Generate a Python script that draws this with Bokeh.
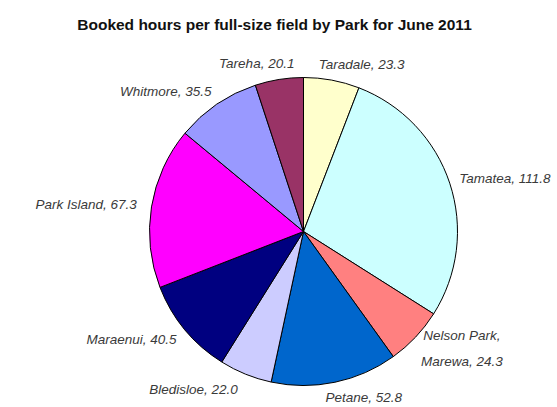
import math
from bokeh.plotting import figure
from bokeh.models import Range1d, ColumnDataSource
from bokeh.core.properties import value
from bokeh.embed import file_html
from bokeh.resources import INLINE

title = "Booked hours per full-size field by Park for June 2011"
parks = ["Taradale", "Tamatea", "Nelson Park, Marewa", "Petane", "Bledisloe",
         "Maraenui", "Park Island", "Whitmore", "Tareha"]
hours = [23.3, 111.8, 24.3, 52.8, 22.0, 40.5, 67.3, 35.5, 20.1]
colors = ["#FFFFCC", "#CCFFFF", "#FF8080", "#0066CC", "#CCCCFF",
          "#000080", "#FF00FF", "#9999FF", "#993366"]

W, H = 557, 407
cx, cy, R = 303, 176, 154
RL = 165
CHAR_W = 6.4  # approx. width of one label character in px

total = sum(hours)
starts, ends, mids = [], [], []
cum = 0.0
for v in hours:
    a0 = math.pi / 2 - cum / total * 2 * math.pi
    cum += v
    a1 = math.pi / 2 - cum / total * 2 * math.pi
    starts.append(a1)
    ends.append(a0)
    mids.append((a0 + a1) / 2)

src = ColumnDataSource(dict(start=starts, end=ends, color=colors, park=parks, hours=hours))

p = figure(width=W, height=H, output_backend="svg", toolbar_location=None,
           x_range=Range1d(0, W), y_range=Range1d(0, H), min_border=0)
p.axis.visible = False
p.grid.visible = False
p.outline_line_color = None

p.wedge(x=cx, y=cy, radius=R, start_angle="start", end_angle="end",
        fill_color="color", line_color="#000000", line_width=1, source=src)

lx, ly, lt = [], [], []
for name, v, m in zip(parks, hours, mids):
    c, s = math.cos(m), math.sin(m)
    txt = name.replace(", ", ",\n") + ", " + f"{v:.1f}"
    w = max(len(t) for t in txt.split("\n")) * CHAR_W
    frac = min(1.0, max(0.0, 0.5 - 1.7 * c))  # where the anchor sits within the box
    px = cx + RL * c
    lx.append(px + (0.5 - frac) * w)
    ly.append(cy + RL * s + 5 * s)
    lt.append(txt)

lsrc = ColumnDataSource(dict(x=lx, y=ly, text=lt))
p.text(x="x", y="y", text="text", text_align="center", text_baseline="middle",
       text_font=value("Liberation Sans"), text_font_style="italic",
       text_font_size="13.5px", text_color="#3a3a3a", text_line_height=1.75,
       source=lsrc)

p.text(x=[274], y=[H - 24], text=[title], text_align="center",
       text_baseline="middle", text_font=value("Liberation Sans"),
       text_font_style="bold", text_font_size="15.5px", text_color="#111111")

open("out.html", "w").write(file_html(p, INLINE))
